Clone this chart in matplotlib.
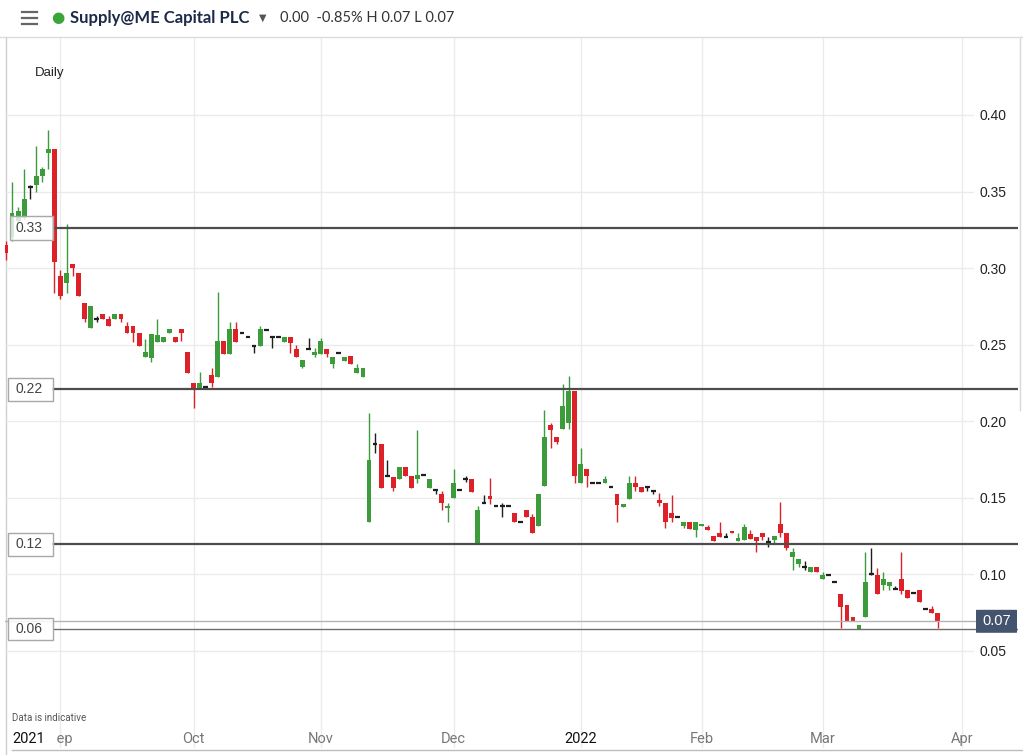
import numpy as np
import pandas as pd
import matplotlib
matplotlib.use("Agg")
import matplotlib.pyplot as plt
from matplotlib.transforms import blended_transform_factory
from matplotlib.patches import Rectangle, FancyBboxPatch
from matplotlib.lines import Line2D

# ---------------- data ----------------
holidays = ["2021-08-30", "2021-12-27", "2021-12-28", "2022-01-03"]
month_labels = ["Sep", "Oct", "Nov", "Dec", "2022", "Feb", "Mar", "Apr"]

opens = [0.315, 0.320, 0.331, 0.333, 0.353, 0.354, 0.360, 0.375, 0.378, 0.295,
         0.290, 0.303, 0.297, 0.277, 0.261, 0.267, 0.270, 0.267, 0.267, 0.270,
         0.262, 0.262, 0.2575, 0.242, 0.241, 0.2516, 0.2516, 0.2575, 0.255, 0.260,
         0.245, 0.2248, 0.2216, 0.2222, 0.230, 0.2288, 0.2523, 0.2438, 0.260, 0.2575,
         0.2549, 0.249, 0.249, 0.2595, 0.2549, 0.2549, 0.2516, 0.2549, 0.2471, 0.2353,
         0.2471, 0.2431, 0.2438, 0.2471, 0.2373, 0.2444, 0.2393, 0.2425, 0.2314, 0.2288,
         0.134, 0.185, 0.185, 0.164, 0.1634, 0.1621, 0.170, 0.164, 0.1621, 0.1647,
         0.1562, 0.1549, 0.1523, 0.1431, 0.1497, 0.1549, 0.1621, 0.1621, 0.1196, 0.1464,
         0.151, 0.1444, 0.1444, 0.1444, 0.1399, 0.134, 0.1418, 0.1373, 0.1314, 0.1575,
         0.1974, 0.1895, 0.1948, 0.1987, 0.2196, 0.1595, 0.1686, 0.1595, 0.1595, 0.1595,
         0.1569, 0.1523, 0.1438, 0.149, 0.1595, 0.1569, 0.1569, 0.1542, 0.1484, 0.1464,
         0.1399, 0.1373, 0.1314, 0.134, 0.1288, 0.1314, 0.1307, 0.1249, 0.1268, 0.1242,
         0.1281, 0.1216, 0.1222, 0.1262, 0.1242, 0.1268, 0.121, 0.1222, 0.1327, 0.1268,
         0.1111, 0.1065, 0.1046, 0.1013, 0.1046, 0.0967, 0.0993, 0.0948, 0.0869, 0.0797,
         0.0719, 0.064, 0.0719, 0.100, 0.0993, 0.0928, 0.0922, 0.0902, 0.0967, 0.0895,
         0.0876, 0.0895, 0.0771, 0.0771, 0.0745]
highs = [0.318, 0.356, 0.340, 0.365, 0.354, 0.380, 0.366, 0.390, 0.378, 0.299,
         0.329, 0.303, 0.297, 0.277, 0.275, 0.269, 0.270, 0.269, 0.270, 0.270,
         0.265, 0.262, 0.2575, 0.254, 0.257, 0.267, 0.255, 0.260, 0.255, 0.260,
         0.245, 0.2248, 0.232, 0.2222, 0.2346, 0.2843, 0.2523, 0.2647, 0.2647, 0.2575,
         0.2549, 0.249, 0.262, 0.2595, 0.2549, 0.2549, 0.2549, 0.2549, 0.2497, 0.2399,
         0.2542, 0.2477, 0.2542, 0.2471, 0.2418, 0.2444, 0.2418, 0.2425, 0.2373, 0.2346,
         0.2052, 0.1922, 0.185, 0.1745, 0.1634, 0.170, 0.170, 0.164, 0.1941, 0.1647,
         0.1621, 0.1549, 0.1542, 0.1464, 0.1686, 0.1549, 0.164, 0.1621, 0.1444, 0.1516,
         0.1627, 0.1444, 0.1464, 0.1444, 0.1399, 0.134, 0.1418, 0.1392, 0.1523, 0.2072,
         0.199, 0.1895, 0.2242, 0.2294, 0.2196, 0.1824, 0.1686, 0.1595, 0.1595, 0.164,
         0.1569, 0.1523, 0.1458, 0.164, 0.164, 0.1569, 0.1569, 0.1542, 0.1529, 0.1464,
         0.1516, 0.1373, 0.134, 0.134, 0.134, 0.1327, 0.132, 0.1249, 0.134, 0.1268,
         0.1281, 0.1268, 0.1327, 0.1288, 0.1242, 0.1268, 0.1242, 0.1249, 0.1471, 0.1268,
         0.117, 0.1098, 0.1085, 0.1046, 0.1046, 0.1013, 0.0993, 0.0948, 0.0869, 0.0797,
         0.0719, 0.0667, 0.1144, 0.117, 0.1039, 0.1013, 0.0948, 0.0922, 0.1144, 0.0895,
         0.0876, 0.0895, 0.0771, 0.079, 0.0745]
lows = [0.305, 0.318, 0.330, 0.332, 0.345, 0.350, 0.356, 0.365, 0.284, 0.280,
        0.284, 0.295, 0.282, 0.265, 0.261, 0.265, 0.267, 0.262, 0.267, 0.265,
        0.2575, 0.252, 0.249, 0.242, 0.2386, 0.2516, 0.2516, 0.2575, 0.2516, 0.2523,
        0.2314, 0.2085, 0.2216, 0.2222, 0.2222, 0.2288, 0.2438, 0.2438, 0.2516, 0.2575,
        0.2549, 0.2444, 0.249, 0.2595, 0.2477, 0.2549, 0.2516, 0.2444, 0.2418, 0.2346,
        0.2471, 0.2418, 0.2438, 0.2418, 0.2346, 0.2444, 0.2393, 0.2373, 0.2314, 0.2288,
        0.134, 0.1791, 0.1562, 0.164, 0.1542, 0.1621, 0.164, 0.1562, 0.1595, 0.1647,
        0.1562, 0.1523, 0.1418, 0.134, 0.1497, 0.1549, 0.1601, 0.1536, 0.1196, 0.1464,
        0.1458, 0.1444, 0.1373, 0.1444, 0.134, 0.134, 0.1373, 0.1268, 0.1314, 0.1575,
        0.1824, 0.185, 0.1948, 0.1948, 0.1595, 0.1595, 0.1569, 0.1595, 0.1595, 0.1595,
        0.1569, 0.134, 0.1438, 0.149, 0.1542, 0.1536, 0.1542, 0.1523, 0.1444, 0.1301,
        0.134, 0.1373, 0.1301, 0.1294, 0.1242, 0.1314, 0.1288, 0.1216, 0.1242, 0.1242,
        0.1268, 0.1216, 0.1222, 0.1229, 0.1144, 0.1222, 0.1177, 0.1203, 0.1242, 0.1157,
        0.1026, 0.1046, 0.1026, 0.1013, 0.1013, 0.0967, 0.0993, 0.0948, 0.0647, 0.0693,
        0.0693, 0.064, 0.0719, 0.0993, 0.0869, 0.0895, 0.0895, 0.0902, 0.0869, 0.0843,
        0.0876, 0.0817, 0.0771, 0.0745, 0.0647]
closes = [0.310, 0.336, 0.337, 0.345, 0.353, 0.360, 0.365, 0.378, 0.304, 0.282,
          0.297, 0.300, 0.282, 0.267, 0.275, 0.267, 0.267, 0.262, 0.270, 0.267,
          0.2575, 0.2575, 0.249, 0.245, 0.257, 0.256, 0.255, 0.260, 0.2516, 0.2575,
          0.2314, 0.2216, 0.2248, 0.2222, 0.2248, 0.2523, 0.2438, 0.260, 0.2516, 0.2575,
          0.2549, 0.249, 0.260, 0.2595, 0.2549, 0.2549, 0.2549, 0.251, 0.2418, 0.2399,
          0.2471, 0.2451, 0.2523, 0.2438, 0.2418, 0.2444, 0.2418, 0.2373, 0.2346, 0.2346,
          0.1745, 0.185, 0.1562, 0.164, 0.1562, 0.170, 0.164, 0.1562, 0.1647, 0.1647,
          0.1621, 0.1549, 0.1464, 0.1444, 0.1595, 0.1549, 0.1621, 0.1536, 0.1418, 0.1464,
          0.149, 0.1444, 0.1444, 0.1444, 0.134, 0.134, 0.1373, 0.1268, 0.1523, 0.1895,
          0.1941, 0.1863, 0.2098, 0.2196, 0.164, 0.1719, 0.164, 0.1595, 0.1595, 0.1621,
          0.1569, 0.1451, 0.1458, 0.1595, 0.1569, 0.1536, 0.1569, 0.1542, 0.1464, 0.134,
          0.1366, 0.1373, 0.134, 0.1294, 0.134, 0.1327, 0.1288, 0.1216, 0.1242, 0.1242,
          0.1268, 0.1235, 0.1307, 0.1229, 0.1216, 0.1242, 0.121, 0.1249, 0.1268, 0.117,
          0.1144, 0.1098, 0.1046, 0.1046, 0.1013, 0.0993, 0.0993, 0.0948, 0.0784, 0.0693,
          0.0693, 0.0667, 0.0948, 0.100, 0.0869, 0.0967, 0.0948, 0.0902, 0.0889, 0.0843,
          0.0876, 0.0817, 0.0771, 0.0745, 0.0686]

price_ticks = [0.05, 0.10, 0.15, 0.20, 0.25, 0.30, 0.35, 0.40]
level_lines = [0.326, 0.221, 0.1197]
level_labels = ["0.33", "0.22", "0.12"]
support_level, support_label = 0.0643, "0.06"
last_price, last_label = 0.0693, "0.07"

# ---------------- styling ----------------
GREEN = "#3c9c3c"
RED = "#dc2228"
BLACK = "#1e1e1e"
GRID = "#ebebeb"
W, H = 1023, 755

plt.rcParams["font.family"] = ["Liberation Sans", "DejaVu Sans"]

fig = plt.figure(figsize=(W / 100, H / 100), dpi=100)
fig.patch.set_facecolor("white")

# axes occupies pixel x 5..1018, y 37..748
AX_L, AX_R, AX_T, AX_B = 5, 1018, 37, 748
ax = fig.add_axes([AX_L / W, 1 - AX_B / H, (AX_R - AX_L) / W, (AX_B - AX_T) / H])
ax.set_facecolor("none")
for s in ax.spines.values():
    s.set_visible(False)

# trading calendar
dates = pd.bdate_range("2021-08-18", "2022-04-01")
dates = dates[~dates.isin(pd.to_datetime(holidays))]
n = len(opens)
idx = np.arange(n)

# x scale: 6.05 px per bar, bar 0 centred at px 6
px_per_bar = 6.05
x0 = 6.0
ax.set_xlim((AX_L - x0) / px_per_bar, (AX_R - x0) / px_per_bar)
# y scale: 0.40 at px 115, 1531 px per unit
def pix2val(py):
    return 0.40 - (py - 115) / 1531.0
ax.set_ylim(pix2val(AX_B), pix2val(AX_T))

# month starts
ser = pd.Series(np.arange(len(dates)), index=dates)
month_pos = ser.groupby([dates.year, dates.month]).first().values[1:]  # skip August
ax.set_xticks(month_pos)
ax.set_xticklabels([])
ax.tick_params(axis="x", length=0)
for xp in month_pos:
    ax.axvline(xp, color=GRID, lw=1, zorder=0)

# horizontal grid (stops before price labels)
xmax_frac = (973 - AX_L) / (AX_R - AX_L)
for v in price_ticks:
    ax.axhline(v, xmin=0, xmax=xmax_frac, color=GRID, lw=1, zorder=0)

# right price labels
ax.set_yticks(price_ticks)
ax.set_yticklabels([f"{v:.2f}" for v in price_ticks])
ax.yaxis.tick_right()
ax.tick_params(axis="y", length=0, pad=-(AX_R - 980) * 0.72, labelsize=10, labelcolor="#222222")

# ---------------- candles ----------------
o = np.array(opens); h = np.array(highs); l = np.array(lows); c = np.array(closes)
up = c > o
dn = c < o
flat = c == o
bw = 0.8
for mask, col in [(up, GREEN), (dn, RED)]:
    ax.vlines(idx[mask], l[mask], h[mask], color=col, lw=1.0, zorder=3)
    ax.bar(idx[mask], np.abs(c - o)[mask], bottom=np.minimum(o, c)[mask], width=bw,
           color=col, linewidth=0, zorder=4)
ax.vlines(idx[flat], l[flat], h[flat], color=BLACK, lw=1.0, zorder=3)
ax.hlines(o[flat], idx[flat] - bw / 2, idx[flat] + bw / 2, color=BLACK, lw=1.6, zorder=4)

# ---------------- level lines & labels ----------------
bt = blended_transform_factory(ax.transAxes, ax.transData)
def fx(px):
    return (px - AX_L) / (AX_R - AX_L)
def fy(py):
    return (AX_B - py) / (AX_B - AX_T)
px_h = 1.0 / 1531.0
box_specs = [(10, 53, 24), (8, 53, 23), (8, 53, 23)]
for val, lab, (bx0, bx1, bh) in zip(level_lines, level_labels, box_specs):
    ax.plot([fx(bx1), 1.0], [val, val], transform=bt, color="#4d4d4d", lw=1.6, zorder=5)
    ax.add_patch(Rectangle((fx(bx0), val - bh / 2 * px_h), fx(bx1) - fx(bx0), bh * px_h,
                           transform=bt, facecolor=(1, 1, 1, 0.78), edgecolor="#a8a8a8",
                           lw=1, zorder=6))
    ax.text(fx(15), val, lab, transform=bt, ha="left", va="center", fontsize=10,
            color="#444444", zorder=7)

# last price line
ax.plot([0, fx(975)], [last_price, last_price], transform=bt, color="#b4b4b4", lw=1, zorder=5)
# support line
ax.plot([fx(53), 1.0], [support_level, support_level], transform=bt, color="#6e6e6e", lw=1, zorder=5)
ax.add_patch(Rectangle((fx(8), support_level - 11 * px_h), fx(53) - fx(8), 22 * px_h,
                       transform=bt, facecolor=(1, 1, 1, 0.85), edgecolor="#a8a8a8",
                       lw=1, zorder=6))
ax.text(fx(15), support_level, support_label, transform=bt, ha="left", va="center",
        fontsize=10, color="#444444", zorder=7)

# last price tag on the right
ax.add_patch(FancyBboxPatch((fx(976), last_price - 11.5 * px_h), fx(1017) - fx(976), 23 * px_h,
                            boxstyle="round,pad=0,rounding_size=0.004", transform=bt,
                            facecolor="#45546e", edgecolor="none", zorder=8,
                            mutation_aspect=0.02))
ax.text(fx(996.5), last_price, last_label, transform=bt, ha="center", va="center",
        fontsize=10.5, color="white", zorder=9)

# month labels along the bottom
bx = blended_transform_factory(ax.transData, ax.transAxes)
ylab = fy(739)
for xp, lab in zip(month_pos, month_labels):
    is_year = lab.isdigit()
    ax.text(xp, ylab, lab, transform=bx, ha="center", va="center",
            fontsize=10.5, family=["Roboto", "DejaVu Sans"],
            color="#111111" if is_year else "#777777", zorder=6)
# "2021" sits on a white patch that hides the start of "Sep"
ax.add_patch(Rectangle((fx(8), fy(747)), fx(57) - fx(8), fy(731) - fy(747),
                       transform=ax.transAxes, facecolor="white", edgecolor="none", zorder=7))
ax.text(fx(12), ylab, "2021", transform=ax.transAxes, ha="left", va="center",
        fontsize=10.5, family=["Roboto", "DejaVu Sans"], color="#111111", zorder=8)

# ---------------- chrome ----------------
fig.add_artist(Line2D([0, 1], [1 - 37 / H, 1 - 37 / H], color="#dcdcdc", lw=1))
fig.add_artist(Line2D([5.5 / W, 5.5 / W], [0, 1 - 37 / H], color="#cfcfcf", lw=1, zorder=-1))
fig.add_artist(Line2D([1019.5 / W, 1019.5 / W], [1 - 410 / H, 1 - 37 / H], color="#d8d8d8", lw=1))
fig.add_artist(Line2D([12 / W, 1], [1 - 750 / H, 1 - 750 / H], color="#bdbdbd", lw=1))

# hamburger icon
for yy in (12, 18, 24):
    fig.add_artist(Line2D([22 / W, 37 / W], [1 - yy / H, 1 - yy / H], color="#666666", lw=1.6))
fig.text(58 / W, 1 - 18 / H, "\u25CF", color="#3aa63a", fontsize=11, ha="center", va="center",
         family="DejaVu Sans")
fig.text(70 / W, 1 - 18 / H, "Supply@ME Capital PLC", color="#1b2a48", fontsize=12,
         fontweight="bold", ha="left", va="center", family=["Lato", "DejaVu Sans"])
fig.text(263 / W, 1 - 18 / H, "\u25BC", color="#555555", fontsize=7, ha="center", va="center",
         family="DejaVu Sans")
fig.text(280 / W, 1 - 18 / H, "0.00  -0.85% H 0.07 L 0.07", color="#333333", fontsize=10.5,
         ha="left", va="center", family=["Lato", "DejaVu Sans"])

ax.text(fx(35), fy(73), "Daily", transform=ax.transAxes,
        ha="left", va="center", fontsize=9.5, color="#222222")
ax.text(fx(12), fy(718), "Data is indicative", transform=ax.transAxes,
        ha="left", va="center", fontsize=7, color="#555555",
        family=["Roboto", "DejaVu Sans"])

fig.savefig("out.png", dpi=100, facecolor="white")
